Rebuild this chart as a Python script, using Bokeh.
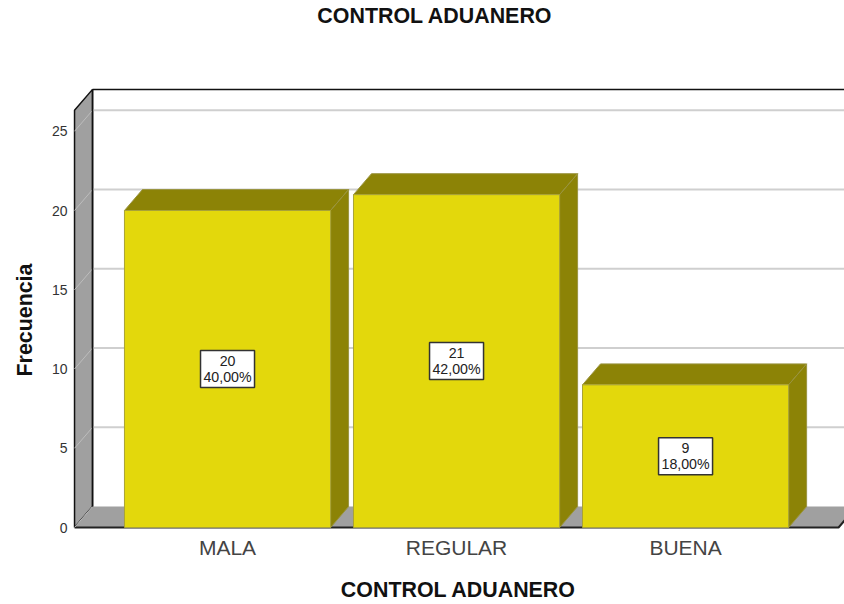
from bokeh.plotting import figure
from bokeh.models import Range1d, FixedTicker, Title, Label
from bokeh.embed import file_html
from bokeh.resources import INLINE
from bokeh.core.properties import value

title_text = "CONTROL ADUANERO"
x_title = "CONTROL ADUANERO"
y_title = "Frecuencia"
categories = ["MALA", "REGULAR", "BUENA"]
freqs = [20, 21, 9]
percents = ["40,00%", "42,00%", "18,00%"]
y_ticks = [0, 5, 10, 15, 20, 25]

DX = 18 / 229      # depth of the 3D box in x units
DY = 21 / 15.88    # depth of the 3D box in y units
BAR_W = 0.9
XL = -0.668        # left edge of the box
XR = 2.668         # right edge of the box
YT = 26.32         # height of the front plane top

YELLOW = "#e3d80c"
OLIVE = "#8c8306"
GREY = "#a0a0a0"
FONT = "Liberation Sans"

xs = list(range(len(categories)))

p = figure(width=844, height=604, output_backend="svg", toolbar_location=None,
           x_range=Range1d(-0.6769, 2.694), y_range=Range1d(-0.126, 33.25),
           min_border_left=72, min_border_right=0, min_border_top=0, min_border_bottom=74,
           outline_line_color=None, background_fill_color="white")
p.xgrid.visible = False
p.ygrid.visible = False

p.yaxis.ticker = FixedTicker(ticks=y_ticks)
p.yaxis.axis_line_color = None
p.yaxis.major_tick_line_color = None
p.yaxis.minor_tick_line_color = None
p.yaxis.major_tick_out = 0
p.yaxis.major_label_standoff = 5
p.yaxis.major_label_text_font = FONT
p.yaxis.major_label_text_font_size = "14px"
p.yaxis.major_label_text_color = "#333333"

p.xaxis.ticker = FixedTicker(ticks=xs)
p.xaxis.major_label_overrides = {i: c for i, c in enumerate(categories)}
p.xaxis.axis_line_color = None
p.xaxis.major_tick_line_color = None
p.xaxis.minor_tick_line_color = None
p.xaxis.major_tick_out = 0
p.xaxis.major_label_standoff = 6
p.xaxis.major_label_text_font = FONT
p.xaxis.major_label_text_font_size = "21px"
p.xaxis.major_label_text_color = "#444444"
p.xaxis.axis_label = x_title
p.xaxis.axis_label_standoff = 16
p.xaxis.axis_label_text_line_height = 1.0
p.xaxis.axis_label_text_font = FONT
p.xaxis.axis_label_text_font_size = "21.4px"
p.xaxis.axis_label_text_font_style = "bold"
p.xaxis.axis_label_text_color = "#111111"

p.add_layout(Title(text=y_title, align="left", offset=153, standoff=19,
                   vertical_align="top", text_font=FONT, text_font_size="21.4px",
                   text_font_style="bold", text_color="#111111"), "left")

# left wall
p.patch([XL, XL + DX, XL + DX, XL], [0, DY, YT + DY, YT], fill_color=GREY,
        line_color="#111111", line_width=1.5)
# floor
p.patch([XL, XL + DX, XR + DX, XR], [0, DY, DY, 0], fill_color=GREY, line_color=None)
# top back edge and right continuation
p.line([XL + DX, XR + DX], [YT + DY, YT + DY], line_color="#111111", line_width=1.5)
p.line([XL, XR, XR + DX], [0, 0, DY], line_color="#222222", line_width=2)

# grid lines on back and wall
for t in y_ticks:
    if t > 0:
        p.line([XL + DX, XR + DX], [t + DY, t + DY], line_color="#cfcfcf", line_width=2)
    p.line([XL, XL + DX], [t, t + DY], line_color="#bdbdbd", line_width=1)
p.line([XL + DX, XL + DX], [DY, YT + DY], line_color="#111111", line_width=1.5)

# bars
for x, f in zip(xs, freqs):
    l, r = x - BAR_W / 2, x + BAR_W / 2
    p.patch([l, l + DX, r + DX, r], [f, f + DY, f + DY, f], fill_color=OLIVE,
            line_color="#9a9440", line_width=1)
    p.patch([r, r + DX, r + DX, r], [0, DY, f + DY, f], fill_color=OLIVE,
            line_color="#9a9440", line_width=1)
    p.quad(left=[l], right=[r], bottom=[0], top=[f], fill_color=YELLOW,
           line_color="#a8a238", line_width=1)

# value boxes
mid = [f / 2 for f in freqs]
p.rect(xs, mid, width=54, height=37, width_units="screen", height_units="screen",
       fill_color="white", line_color="#333333", line_width=1.5)
p.text(xs, mid, text=[str(f) for f in freqs], text_align="center", text_baseline="middle",
       y_offset=-8, text_font=value(FONT), text_font_size="14.2px", text_color="#222222")
p.text(xs, mid, text=percents, text_align="center", text_baseline="middle",
       y_offset=8, text_font=value(FONT), text_font_size="14.2px", text_color="#222222")

# chart title, inside the frame's empty top band
p.add_layout(Label(x=362.5, y=514, x_units="screen", y_units="screen", text=title_text,
                   text_align="center", text_baseline="middle", text_font=FONT,
                   text_font_size="21.4px", text_font_style="bold", text_color="#111111"))

open("out.html", "w").write(file_html(p, INLINE))
